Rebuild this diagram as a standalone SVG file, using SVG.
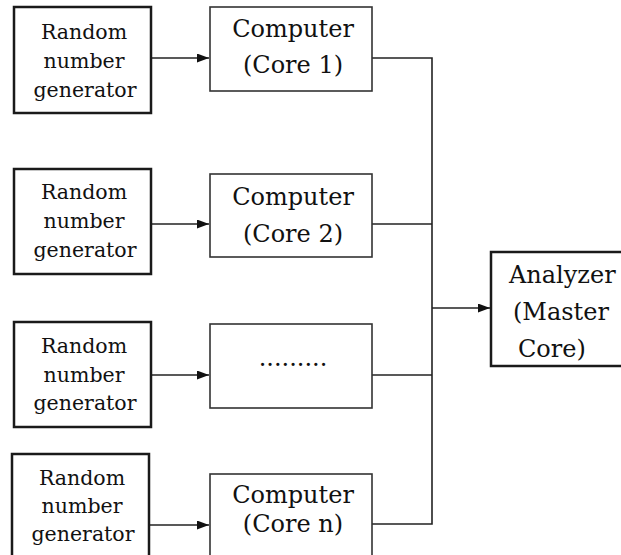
<svg xmlns="http://www.w3.org/2000/svg" width="621" height="555" viewBox="0 0 621 555">
<style>
.rng{fill:#fff;stroke:#1a1a1a;stroke-width:2.5}
.cpu{fill:#fff;stroke:#333;stroke-width:1.6}
.t{font-family:"DejaVu Serif","Liberation Serif",serif;fill:#111}
.s{font-size:20.5px;text-anchor:middle}
.b{font-size:24px;text-anchor:middle}
.a{font-size:24px}
.ln{fill:none;stroke:#222;stroke-width:1.6}
</style>
<defs>
<marker id="ah" viewBox="0 0 12 9" refX="12" refY="4.5" markerWidth="12" markerHeight="9" markerUnits="userSpaceOnUse" orient="auto">
<path d="M0,0 L12,4.5 L0,9 Z" fill="#111"/>
</marker>
</defs>
<rect width="621" height="555" fill="#fff"/>
<g id="connectors">
<line class="ln" x1="151" y1="58" x2="209" y2="58" marker-end="url(#ah)"/>
<line class="ln" x1="151" y1="224" x2="209" y2="224" marker-end="url(#ah)"/>
<line class="ln" x1="151" y1="375" x2="209" y2="375" marker-end="url(#ah)"/>
<line class="ln" x1="149" y1="525" x2="209" y2="525" marker-end="url(#ah)"/>
<polyline class="ln" points="372,58 432,58 432,524 372,524"/>
<line class="ln" x1="372" y1="224" x2="432" y2="224"/>
<line class="ln" x1="372" y1="375" x2="432" y2="375"/>
<line class="ln" x1="432" y1="308" x2="490" y2="308" marker-end="url(#ah)"/>
</g>
<g id="rng1">
<rect class="rng" x="14" y="7" width="137" height="106"/>
<text class="t s" x="84" y="39">Random</text>
<text class="t s" x="84" y="68">number</text>
<text class="t s" x="85" y="97">generator</text>
</g>
<g id="rng2">
<rect class="rng" x="14" y="169" width="137" height="105"/>
<text class="t s" x="84" y="199">Random</text>
<text class="t s" x="84" y="228">number</text>
<text class="t s" x="85" y="257">generator</text>
</g>
<g id="rng3">
<rect class="rng" x="14" y="322" width="137" height="105"/>
<text class="t s" x="84" y="353">Random</text>
<text class="t s" x="84" y="382">number</text>
<text class="t s" x="85" y="410">generator</text>
</g>
<g id="rng4">
<rect class="rng" x="12" y="454" width="137" height="110"/>
<text class="t s" x="82" y="485">Random</text>
<text class="t s" x="82" y="513">number</text>
<text class="t s" x="83" y="541">generator</text>
</g>
<g id="core1">
<rect class="cpu" x="210" y="7" width="162" height="84"/>
<text class="t b" x="293" y="37">Computer</text>
<text class="t b" x="293" y="73">(Core 1)</text>
</g>
<g id="core2">
<rect class="cpu" x="210" y="174" width="162" height="83"/>
<text class="t b" x="293" y="205">Computer</text>
<text class="t b" x="293" y="242">(Core 2)</text>
</g>
<g id="core3">
<rect class="cpu" x="210" y="324" width="162" height="84"/>
<text class="t b" x="293" y="366">.........</text>
</g>
<g id="core4">
<rect class="cpu" x="210" y="474" width="162" height="90"/>
<text class="t b" x="293" y="503">Computer</text>
<text class="t b" x="293" y="532">(Core n)</text>
</g>
<g id="analyzer">
<rect class="rng" x="491" y="252" width="140" height="114"/>
<text class="t a" x="509" y="283">Analyzer</text>
<text class="t a" x="513" y="320">(Master</text>
<text class="t a" x="518" y="357">Core)</text>
</g>
</svg>
